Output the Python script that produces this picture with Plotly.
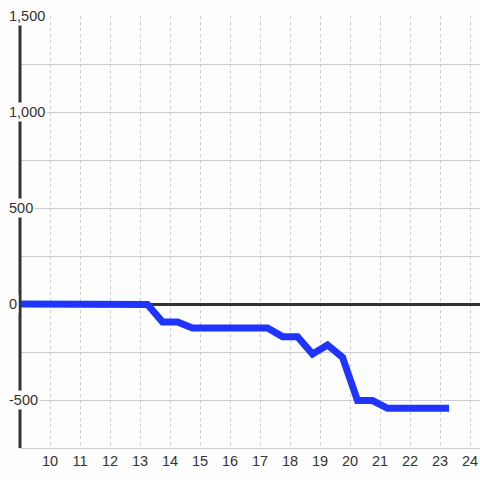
import plotly.graph_objects as go

hours = [8.75, 9.25, 9.75, 10.25, 10.75, 11.25, 11.75, 12.25, 12.75, 13.25,
         13.75, 14.25, 14.75, 15.25, 15.75, 16.25, 16.75, 17.25, 17.75, 18.25,
         18.75, 19.25, 19.75, 20.25, 20.75, 21.25, 21.75, 22.25, 22.75, 23.3]
values = [0, 0, 0, 0, 0, 0, 0, -3, -3, -3,
          -94, -94, -125, -125, -125, -125, -125, -125, -170, -170,
          -260, -214, -278, -503, -503, -543, -543, -543, -543, -543]

x_ticks = list(range(10, 25))
y_label_vals = [-500, 0, 500, 1000, 1500]
y_label_text = ["-500", "0", "500", "1,000", "1,500"]

BG = "#fcfdfc"
TXT = "#333333"

fig = go.Figure()
fig.add_trace(go.Scatter(x=hours, y=values, mode="lines",
                         line=dict(color="#1f35ff", width=7),
                         hoverinfo="skip", showlegend=False))

fig.update_layout(
    width=480, height=480,
    margin=dict(l=20, r=0, t=16, b=32),
    paper_bgcolor=BG, plot_bgcolor=BG,
    font=dict(family="Liberation Sans, Arial, sans-serif", size=14.5, color=TXT),
    xaxis=dict(range=[9, 24.333], tickvals=x_ticks, ticktext=[str(t) for t in x_ticks],
               showgrid=True, gridcolor="#cccccc", griddash="dot", gridwidth=1,
               zeroline=False, showline=True, linecolor="#cccccc", linewidth=1,
               ticks="", tickfont=dict(size=14.5, color=TXT)),
    yaxis=dict(range=[-750, 1500], dtick=250, tick0=0, showticklabels=False,
               showgrid=True, gridcolor="#cccccc", gridwidth=1,
               zeroline=True, zerolinecolor="#333333", zerolinewidth=3,
               showline=False, ticks=""),
)

fig.add_shape(type="line", xref="paper", yref="paper", x0=0, x1=0,
              y0=0, y1=(448 - 24) / 432, line=dict(color="#333333", width=3))

for v, t in zip(y_label_vals, y_label_text):
    fig.add_annotation(x=-13 / 460, y=v, xref="paper", yref="y", text=t,
                       showarrow=False, xanchor="left", yanchor="middle",
                       bgcolor=BG, borderpad=1,
                       font=dict(size=14.5, color=TXT))

fig.write_html("out.html", config={"displayModeBar": False},
               post_script="document.body.style.margin='0';document.body.style.background='%s';" % BG)
